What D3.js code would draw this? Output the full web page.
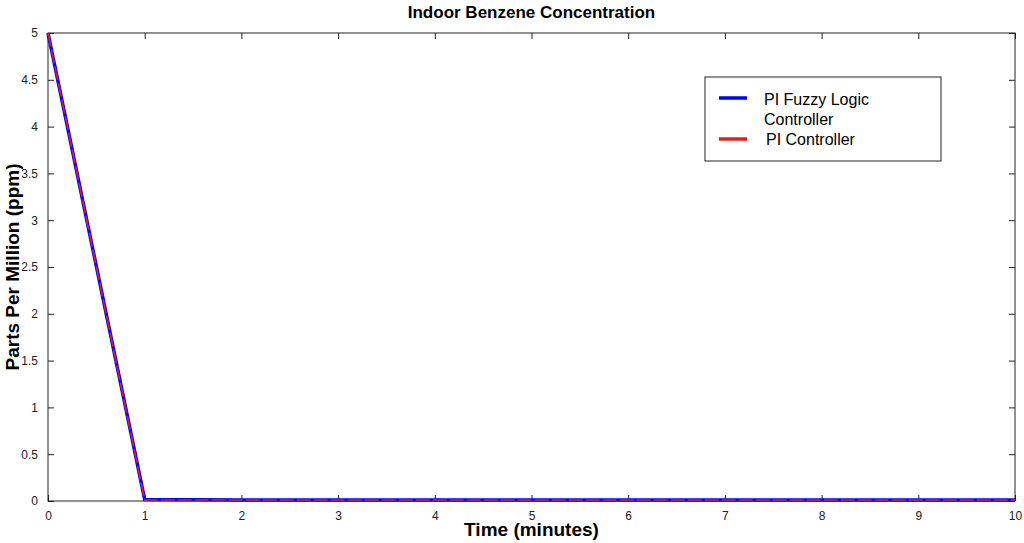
<!DOCTYPE html>
<html>
<head>
<meta charset="utf-8">
<script src="https://d3js.org/d3.v7.min.js"></script>
<style>
body { margin: 0; background: #fff; font-family: "Liberation Sans", Arial, sans-serif; }
</style>
</head>
<body>
<div id="chart"></div>
<script>
// data
const time = [0, 1, 2, 3, 4, 5, 6, 7, 8, 9, 10];
const fuzzy = [5, 0.015, 0.01, 0.01, 0.01, 0.01, 0.01, 0.01, 0.01, 0.01, 0.01];
const pi = [5, 0.01, 0.01, 0.01, 0.01, 0.01, 0.01, 0.01, 0.01, 0.01, 0.01];
const xTicks = [0, 1, 2, 3, 4, 5, 6, 7, 8, 9, 10];
const yTicks = [0, 0.5, 1, 1.5, 2, 2.5, 3, 3.5, 4, 4.5, 5];
const seriesNames = ["PI Fuzzy Logic Controller", "PI Controller"];

var W = 1024, H = 543;
var margin = { top: 33, right: 9, bottom: 42, left: 48 },
   width = W - margin.left - margin.right,
   height = H - margin.top - margin.bottom;

const svg = d3.select("#chart").append("svg")
   .attr("width", W).attr("height", H);
const g = svg.append("g").attr("transform", `translate(${margin.left},${margin.top})`);

const x = d3.scaleLinear().domain([0, 10]).range([0, width]);
const y = d3.scaleLinear().domain([0, 5]).range([height, 0]);

// frame
g.append("rect").attr("width", width).attr("height", height)
   .attr("fill", "none").attr("stroke", "#222").attr("stroke-width", 1);

// axes with inward ticks
function styleAxis(sel) {
   sel.select(".domain").remove();
   sel.selectAll("line").attr("stroke", "#222");
   sel.selectAll("text").attr("fill", "#222").style("font-size", "12px")
      .style("font-family", "Liberation Sans, Arial, sans-serif");
}
const fmt = d => String(d);
g.append("g").attr("transform", `translate(0,${height})`)
   .call(d3.axisBottom(x).tickValues(xTicks).tickSize(-6).tickPadding(10).tickFormat(fmt))
   .call(styleAxis);
g.append("g")
   .call(d3.axisTop(x).tickValues(xTicks).tickSize(-6).tickFormat(""))
   .call(styleAxis);
g.append("g")
   .call(d3.axisLeft(y).tickValues(yTicks).tickSize(-6).tickPadding(10).tickFormat(fmt))
   .call(styleAxis);
g.append("g").attr("transform", `translate(${width},0)`)
   .call(d3.axisRight(y).tickValues(yTicks).tickSize(-6).tickFormat(""))
   .call(styleAxis);

// lines
const line = d3.line().x((d, i) => x(time[i])).y(d => y(d));
g.append("path").datum(fuzzy).attr("d", line)
   .attr("fill", "none").attr("stroke", "#0000ff").attr("stroke-width", 3.5);
g.append("path").datum(pi).attr("d", line)
   .attr("fill", "none").attr("stroke", "#e0201a").attr("stroke-width", 1.6)
   .attr("stroke-dasharray", "14,3");

// title and labels
svg.append("text").attr("x", margin.left + width / 2).attr("y", 18)
   .attr("text-anchor", "middle").style("font-size", "17px").style("font-weight", "bold")
   .text("Indoor Benzene Concentration");
svg.append("text").attr("x", margin.left + width / 2).attr("y", 536)
   .attr("text-anchor", "middle").style("font-size", "19px").style("font-weight", "bold")
   .text("Time (minutes)");
svg.append("text").attr("transform", `translate(19,${margin.top + height / 2}) rotate(-90)`)
   .attr("text-anchor", "middle").style("font-size", "19px").style("font-weight", "bold")
   .text("Parts Per Million (ppm)");

// legend
const lg = svg.append("g").attr("transform", "translate(705,77)");
lg.append("rect").attr("width", 236).attr("height", 84)
   .attr("fill", "#fff").attr("stroke", "#222");
lg.append("line").attr("x1", 14).attr("x2", 42).attr("y1", 21).attr("y2", 21)
   .attr("stroke", "#0000ff").attr("stroke-width", 3.5);
lg.append("text").attr("x", 59).attr("y", 28).style("font-size", "16px").text("PI Fuzzy Logic");
lg.append("text").attr("x", 59).attr("y", 48).style("font-size", "16px").text("Controller");
lg.append("line").attr("x1", 14).attr("x2", 42).attr("y1", 62).attr("y2", 62)
   .attr("stroke", "#e0201a").attr("stroke-width", 3.5);
lg.append("text").attr("x", 61).attr("y", 68).style("font-size", "16px").text("PI Controller");
</script>
</body>
</html>
